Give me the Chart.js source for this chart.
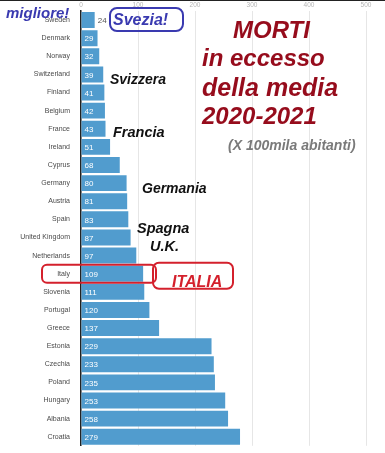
<!DOCTYPE html>
<html>
<head>
<meta charset="utf-8">
<script src="https://cdn.jsdelivr.net/npm/chart.js@4.4.1/dist/chart.umd.min.js"></script>
<style>
  html, body { margin: 0; padding: 0; background: #fff; }
  #wrap { position: relative; width: 385px; height: 453px; }
  #topline { position: absolute; left: 0; top: 0; width: 385px; height: 1px; background: #222; z-index: 2; }
</style>
</head>
<body>
<div id="wrap">
  <div id="topline"></div>
  <canvas id="chart" width="385" height="453"></canvas>
</div>
<script>
// excess deaths 2020-2021 per 100k inhabitants
const countries = [
  "Sweden", "Denmark", "Norway", "Switzerland", "Finland", "Belgium", "France", "Ireland",
  "Cyprus", "Germany", "Austria", "Spain", "United Kingdom", "Netherlands", "Italy",
  "Slovenia", "Portugal", "Greece", "Estonia", "Czechia", "Poland", "Hungary", "Albania", "Croatia"
];
const excess = [24, 29, 32, 39, 41, 42, 43, 51, 68, 80, 81, 83, 87, 97, 109, 111, 120, 137, 229, 233, 235, 253, 258, 279];
const xTicks = [0, 100, 200, 300, 400, 500];

const BAR = "#519cce";
const DARK_RED = "#960c1c";
const RED = "#d4202c";
const BLUE = "#3a3ab0";

const bold = (size) => `italic bold ${size}px "Liberation Sans", Arial, sans-serif`;

// hand-written notes laid over the chart
const notes = [
  { text: "migliore!", x: 6, y: 18, size: 15, color: BLUE },
  { text: "Svezia!", x: 113, y: 25, size: 16, color: BLUE },
  { text: "MORTI", x: 233, y: 38, size: 24, color: DARK_RED },
  { text: "in eccesso", x: 202, y: 66, size: 24, color: DARK_RED },
  { text: "della media", x: 202, y: 96, size: 25, color: DARK_RED },
  { text: "2020-2021", x: 202, y: 124, size: 24, color: DARK_RED },
  { text: "(X 100mila abitanti)", x: 228, y: 150, size: 14, color: "#7a7a7a" },
  { text: "Svizzera", x: 110, y: 84, size: 14, color: "#111" },
  { text: "Francia", x: 113, y: 137, size: 14.5, color: "#111" },
  { text: "Germania", x: 142, y: 193, size: 14, color: "#111" },
  { text: "Spagna", x: 137, y: 233, size: 14.5, color: "#111" },
  { text: "U.K.", x: 150, y: 251, size: 14.5, color: "#111" },
  { text: "ITALIA", x: 172, y: 287, size: 16, color: RED }
];

const roundBox = (ctx, x, y, w, h, r, color) => {
  ctx.save();
  ctx.strokeStyle = color;
  ctx.lineWidth = 2;
  ctx.beginPath();
  ctx.roundRect(x, y, w, h, r);
  ctx.stroke();
  ctx.restore();
};

const valueLabels = {
  id: "valueLabels",
  afterDatasetsDraw(chart) {
    const { ctx } = chart;
    const meta = chart.getDatasetMeta(0);
    ctx.save();
    ctx.font = '8px "Liberation Sans", Arial, sans-serif';
    ctx.textBaseline = "middle";
    meta.data.forEach((bar, i) => {
      const w = bar.x - bar.base;
      if (w < 15) {
        ctx.fillStyle = "#555";
        ctx.fillText(excess[i], bar.x + 3, bar.y + 1);
      } else {
        ctx.fillStyle = "#fff";
        ctx.fillText(excess[i], bar.base + 3, bar.y + 1);
      }
    });
    ctx.restore();
  }
};

const notesPlugin = {
  id: "notes",
  afterDraw(chart) {
    const { ctx } = chart;
    const y = chart.scales.y;
    const italyY = y.getPixelForValue(countries.indexOf("Italy"));
    roundBox(ctx, 42, italyY - 9, 114, 18, 5, RED);
    roundBox(ctx, 153, italyY - 11, 80, 26, 6, RED);
    roundBox(ctx, 110, 8, 73, 23, 7, BLUE);
    ctx.save();
    ctx.textBaseline = "alphabetic";
    notes.forEach((n) => {
      ctx.font = bold(n.size);
      ctx.fillStyle = n.color;
      ctx.fillText(n.text, n.x, n.y);
    });
    ctx.restore();
  }
};

new Chart(document.getElementById("chart"), {
  type: "bar",
  data: {
    labels: countries,
    datasets: [{
      data: excess,
      backgroundColor: BAR,
      barPercentage: 0.88,
      categoryPercentage: 1
    }]
  },
  options: {
    indexAxis: "y",
    responsive: false,
    animation: false,
    layout: { padding: { left: 0, right: 19, top: 0, bottom: 0 } },
    scales: {
      x: {
        position: "top",
        min: 0,
        max: 500,
        afterBuildTicks: (scale) => { scale.ticks = xTicks.map((v) => ({ value: v })); },
        afterFit: (scale) => { scale.height = 11; },
        grid: { color: "#e6e6e6", drawTicks: false },
        border: { display: false },
        ticks: { color: "#b5b5b5", font: { size: 6.5 }, padding: 2 }
      },
      y: {
        afterFit: (scale) => { scale.width = 81; },
        grid: { display: false },
        border: { color: "#222", width: 1.5 },
        ticks: { color: "#4a4a4a", font: { size: 7, family: '"Liberation Sans", Arial, sans-serif' }, padding: 3 }
      }
    },
    plugins: { legend: { display: false }, tooltip: { enabled: false } }
  },
  plugins: [valueLabels, notesPlugin]
});
</script>
</body>
</html>
